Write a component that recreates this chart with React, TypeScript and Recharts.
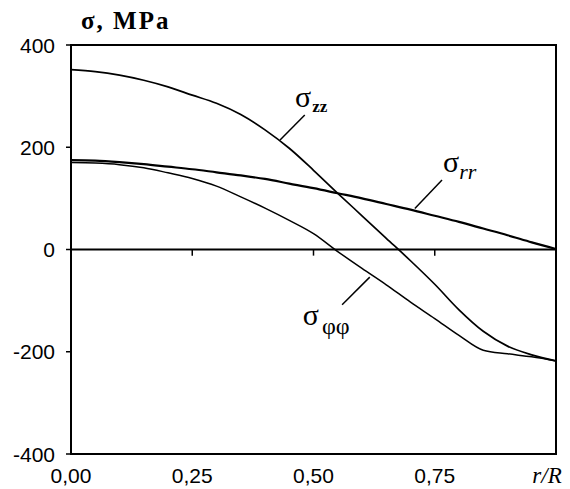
import React from 'react';
import { LineChart, Line, XAxis, YAxis, ReferenceLine, ReferenceArea, ReferenceDot } from 'recharts';

// r/R positions and the three stress curves (MPa)
const radius = [0, 0.05, 0.1, 0.15, 0.2, 0.25, 0.3, 0.35, 0.4, 0.45, 0.5, 0.55, 0.6, 0.65, 0.7, 0.75, 0.8, 0.85, 0.9, 0.95, 1];
const sigmaZZ = [352, 348, 341, 331, 318, 302, 286, 264, 234, 198, 155, 110, 66, 22, -22, -68, -118, -160, -189, -206, -218];
const sigmaRR = [175, 174, 171, 167, 162, 157, 151, 145, 138, 129, 120, 110, 100, 89, 78, 66, 54, 41, 28, 14, 1];
const sigmaFF = [170, 169, 166, 160, 150, 139, 124, 103, 81, 57, 31, -4, -37, -69, -103, -135, -168, -197, -204, -210, -218];

const xTicks = [0, 0.25, 0.5, 0.75, 1];
const xTickLabels = ['0,00', '0,25', '0,50', '0,75', 'r/R'];
const yTicks = [-400, -200, 0, 200, 400];
const zeroTicks = [0.25, 0.5, 0.75];

// curve labels: [x, y, subscript]
const curveLabels = [
  { x: 0.462, y: 279, sub: 'zz', key: 'zz' },
  { x: 0.767, y: 152, sub: 'rr', key: 'rr' },
  { x: 0.478, y: -148, sub: 'φφ', key: 'ff' },
];
const leaders = [
  [{ x: 0.431, y: 214 }, { x: 0.482, y: 263 }],
  [{ x: 0.709, y: 80 }, { x: 0.765, y: 136 }],
  [{ x: 0.559, y: -108 }, { x: 0.616, y: -54 }],
];

const data = radius.map((r, i) => ({ r, zz: sigmaZZ[i], rr: sigmaRR[i], ff: sigmaFF[i] }));

const FONT = '"Liberation Sans", Arial, sans-serif';
const SERIF = '"Liberation Serif", "Times New Roman", serif';

const XTick = ({ x, y, payload }: any) => {
  const i = xTicks.indexOf(payload.value);
  const last = i === xTicks.length - 1;
  return (
    <text
      x={last ? x - 9 : x}
      y={y + 21}
      textAnchor="middle"
      fontFamily={last ? SERIF : FONT}
      fontStyle={last ? 'italic' : 'normal'}
      fontSize={last ? 23 : 21}
      fill="#000"
    >
      {xTickLabels[i]}
    </text>
  );
};

const YTick = ({ x, y, payload }: any) => (
  <text x={x - 9} y={y + 7.5} textAnchor="end" fontFamily={FONT} fontSize={21} fill="#000">
    {payload.value}
  </text>
);

const subStyle: Record<string, any> = {
  zz: { fontSize: 17, fontWeight: 'bold', fontStyle: 'normal', dx: 1, dy: 5 },
  rr: { fontSize: 22, fontWeight: 'normal', fontStyle: 'italic', dx: 0, dy: 7 },
  ff: { fontSize: 24, fontWeight: 'normal', fontStyle: 'normal', dx: 3, dy: 9 },
};

const CurveLabel = (key: string, sub: string) => (props: any) => {
  const { x, y } = props.viewBox;
  const s = subStyle[key];
  return (
    <text x={x} y={y} fontFamily={SERIF} fill="#000">
      <tspan fontSize={30}>σ</tspan>
      <tspan fontSize={s.fontSize} fontWeight={s.fontWeight} fontStyle={s.fontStyle} dx={s.dx} dy={s.dy}>
        {sub}
      </tspan>
    </text>
  );
};

export default function App() {
  return (
    <div style={{ position: 'absolute', left: 0, top: 0, width: 570, height: 489, background: '#fff' }}>
      <div
        style={{
          position: 'absolute',
          left: 81,
          top: 7,
          fontFamily: SERIF,
          fontSize: 25,
          fontWeight: 'bold',
          letterSpacing: 2,
          color: '#000',
          lineHeight: '28px',
        }}
      >
        σ, MPa
      </div>
      <LineChart width={570} height={489} data={data} margin={{ top: 45, right: 14, bottom: 5, left: 11 }}>
        <ReferenceArea x1={0} x2={1} y1={-400} y2={400} fill="none" stroke="#000" strokeWidth={2} ifOverflow="visible" />
        <XAxis
          type="number"
          dataKey="r"
          domain={[0, 1]}
          ticks={xTicks}
          tick={<XTick />}
          tickLine={false}
          axisLine={{ stroke: '#000', strokeWidth: 2 }}
          height={30}
        />
        <YAxis
          type="number"
          domain={[-400, 400]}
          ticks={yTicks}
          tick={<YTick />}
          tickSize={5}
          tickLine={{ stroke: '#000', strokeWidth: 1.5 }}
          axisLine={{ stroke: '#000', strokeWidth: 2 }}
          width={60}
        />
        <ReferenceLine y={0} stroke="#000" strokeWidth={2} />
        {zeroTicks.map((t) => (
          <ReferenceLine key={t} segment={[{ x: t, y: 0 }, { x: t, y: -12 }]} stroke="#000" strokeWidth={1.5} />
        ))}
        {leaders.map((seg, i) => (
          <ReferenceLine key={'l' + i} segment={seg} stroke="#000" strokeWidth={1.5} />
        ))}
        <Line type="monotone" dataKey="zz" stroke="#000" strokeWidth={1.7} dot={false} isAnimationActive={false} />
        <Line type="monotone" dataKey="rr" stroke="#000" strokeWidth={2.2} dot={false} isAnimationActive={false} />
        <Line type="monotone" dataKey="ff" stroke="#000" strokeWidth={1.5} dot={false} isAnimationActive={false} />
        {curveLabels.map((c) => (
          <ReferenceDot
            key={c.key}
            x={c.x}
            y={c.y}
            r={0}
            fill="none"
            stroke="none"
            label={{ content: CurveLabel(c.key, c.sub) } as any}
          />
        ))}
      </LineChart>
    </div>
  );
}
